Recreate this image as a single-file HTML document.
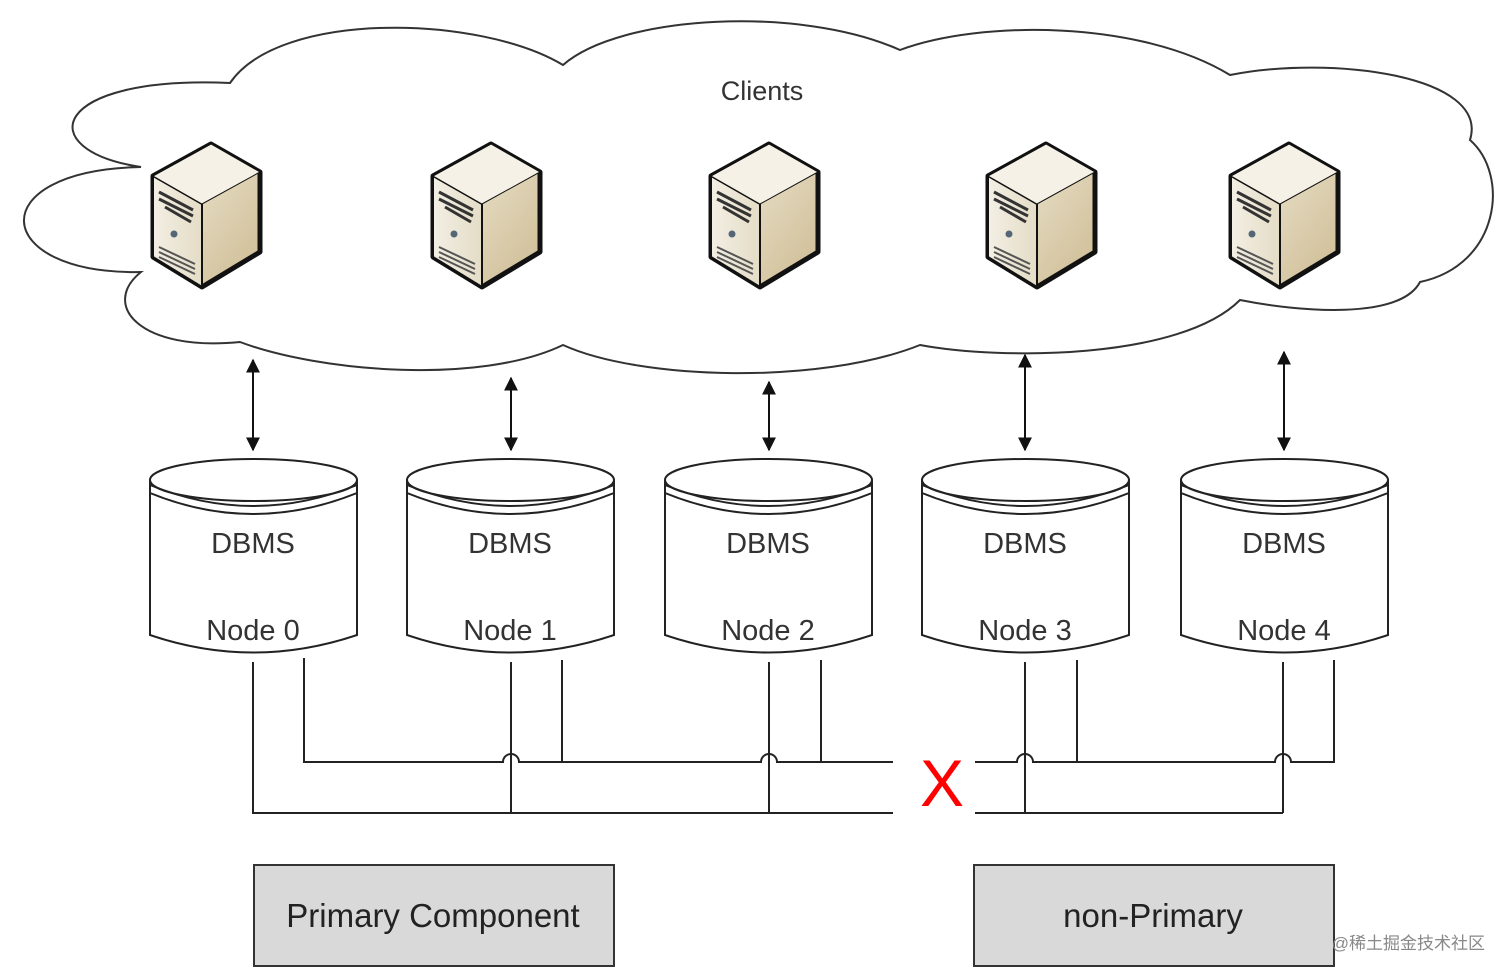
<!DOCTYPE html>
<html><head><meta charset="utf-8"><style>
html,body{margin:0;padding:0;background:#fff;width:1512px;height:980px;overflow:hidden}
svg text{font-family:"Liberation Sans","DejaVu Sans",sans-serif}
</style></head><body>
<svg width="1512" height="980" viewBox="0 0 1512 980" xmlns="http://www.w3.org/2000/svg">
<defs>
<linearGradient id="front" x1="0" x2="1" y1="0" y2="0"><stop offset="0" stop-color="#f3efe4"/><stop offset="1" stop-color="#e4dcc6"/></linearGradient>
<linearGradient id="side" x1="0" x2="1" y1="0" y2="1"><stop offset="0" stop-color="#f2ecdc"/><stop offset="1" stop-color="#cdbb92"/></linearGradient>
<marker id="ah" viewBox="0 0 10 10" refX="9" refY="5" markerWidth="7" markerHeight="7" orient="auto-start-reverse"><path d="M0,0 L10,5 L0,10 z" fill="#111"/></marker>
<g id="srv">
<path d="M-52,-36 L6,-68 L55,-40 L55,40 L-3,75 L-52,45 Z" fill="url(#side)" stroke="#111" stroke-width="5" stroke-linejoin="round"/>
<path d="M-52,-36 L-3,-8 L-3,75 L-52,45 Z" fill="url(#front)" stroke="#111" stroke-width="2"/>
<path d="M-52,-36 L6,-68 L55,-40 L-3,-8 Z" fill="#f5f1e6" stroke="#111" stroke-width="1"/>
<path d="M-46,-20 L-12,-2 M-46,-13 L-12,4 M-40,-5 L-14,10" stroke="#333" stroke-width="3"/>
<circle cx="-31" cy="22" r="3.5" fill="#567"/>
<path d="M-46,35 L-10,52 M-46,40 L-10,57 M-46,45 L-10,62" stroke="#555" stroke-width="2"/>
</g>
<g id="cyl">
<path d="M0,25 L0,180 Q103,215 207,180 L207,25" fill="#fff" stroke="#222" stroke-width="2"/>
<ellipse cx="103.5" cy="25" rx="103.5" ry="21" fill="#fff" stroke="#222" stroke-width="2"/>
<path d="M0,30 Q103,72 207,30 M0,38 Q103,80 207,38" fill="none" stroke="#222" stroke-width="2"/>
</g>
</defs>
<path d="M141,272 C-10,275 -20,170 141,167 C30,150 50,75 230,83 C280,10 480,15 563,65 C620,15 800,5 900,50 C980,20 1140,20 1230,75 C1330,55 1490,75 1470,140 C1510,175 1500,265 1420,282 C1400,320 1300,312 1240,300 C1180,360 1000,360 920,345 C820,385 640,380 563,345 C480,385 320,372 240,342 C140,352 100,305 141,272 Z" fill="#fff" stroke="#333" stroke-width="2"/>
<text x="762" y="100" font-size="27" text-anchor="middle" fill="#333">Clients</text>
<use href="#srv" x="205" y="212"/>
<use href="#srv" x="485" y="212"/>
<use href="#srv" x="763" y="212"/>
<use href="#srv" x="1040" y="212"/>
<use href="#srv" x="1283" y="212"/>
<g stroke="#111" stroke-width="2" marker-start="url(#ah)" marker-end="url(#ah)">
<line x1="253" y1="360" x2="253" y2="450"/>
<line x1="511" y1="378" x2="511" y2="450"/>
<line x1="769" y1="382" x2="769" y2="450"/>
<line x1="1025" y1="355" x2="1025" y2="450"/>
<line x1="1284" y1="352" x2="1284" y2="450"/>
</g>
<use href="#cyl" x="150" y="455"/>
<use href="#cyl" x="407" y="455"/>
<use href="#cyl" x="665" y="455"/>
<use href="#cyl" x="922" y="455"/>
<use href="#cyl" x="1181" y="455"/>
<g font-size="29" fill="#333" text-anchor="middle">
<text x="253" y="553">DBMS</text><text x="253" y="640">Node 0</text>
<text x="510" y="553">DBMS</text><text x="510" y="640">Node 1</text>
<text x="768" y="553">DBMS</text><text x="768" y="640">Node 2</text>
<text x="1025" y="553">DBMS</text><text x="1025" y="640">Node 3</text>
<text x="1284" y="553">DBMS</text><text x="1284" y="640">Node 4</text>
</g>
<g stroke="#222" stroke-width="2" fill="none">
<path d="M253,662 V813 H893 M975,813 H1283"/>
<path d="M304,658 V762 H503 a8,8 0 0 1 16,0 H761 a8,8 0 0 1 16,0 H893 M975,762 H1017 a8,8 0 0 1 16,0 H1275 a8,8 0 0 1 16,0 H1334 V660"/>
<path d="M511,662 V813 M562,660 V762 M769,662 V813 M821,660 V762 M1025,662 V813 M1077,660 V762 M1283,662 V813"/>
</g>
<text x="942" y="806" font-size="66" fill="#f00" text-anchor="middle">X</text>
<rect x="254" y="865" width="360" height="101" fill="#d9d9d9" stroke="#333" stroke-width="2"/>
<rect x="974" y="865" width="360" height="101" fill="#d9d9d9" stroke="#333" stroke-width="2"/>
<text x="433" y="927" font-size="33" fill="#222" text-anchor="middle">Primary Component</text>
<text x="1153" y="927" font-size="33" fill="#222" text-anchor="middle">non-Primary</text>
<text x="1485" y="949" font-size="17" fill="#888" text-anchor="end" style="font-family:'Liberation Sans','Noto Sans CJK SC',sans-serif">@稀土掘金技术社区</text>
</svg>
</body></html>
